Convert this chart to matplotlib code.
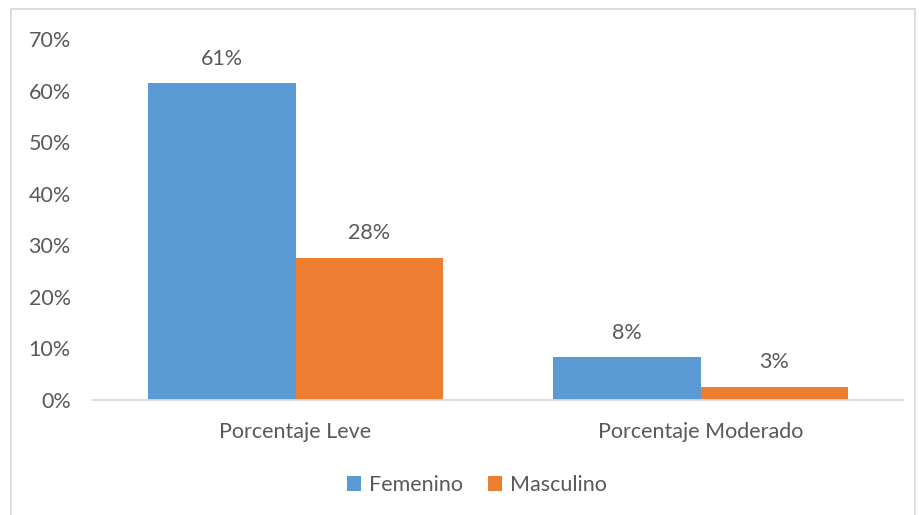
import matplotlib.pyplot as plt
import numpy as np
from matplotlib.patches import Rectangle

# data (fractions)
categorias = ['Porcentaje Leve', 'Porcentaje Moderado']
femenino = [0.614, 0.083]
masculino = [0.276, 0.026]
series = ['Femenino', 'Masculino']
colores = ['#5b9bd5', '#ed7d31']

plt.rcParams['font.family'] = ['Lato', 'DejaVu Sans']
gris = '#595959'
fs = 15.5

fig = plt.figure(figsize=(9.19, 5.15), dpi=100)
ax = fig.add_axes([93/919, 1-400/515, 810/919, 361/515])

x = np.arange(len(categorias))
w = 0.363
b1 = ax.bar(x - w/2, femenino, w, color=colores[0], label=series[0])
b2 = ax.bar(x + w/2, masculino, w, color=colores[1], label=series[1])

# data labels
for bars, vals in [(b1, femenino), (b2, masculino)]:
    for rect, v in zip(bars, vals):
        ax.annotate(f'{round(v*100):.0f}%', (rect.get_x() + rect.get_width()/2, v),
                    xytext=(0, 17.5), textcoords='offset points',
                    ha='center', va='center', fontsize=fs, color=gris)

ax.set_xlim(-0.5, 1.5)
ax.set_ylim(0, 0.7)
ax.set_yticks(np.arange(0, 0.71, 0.1))
ax.set_yticklabels([f'{t}%' for t in range(0, 71, 10)])
ax.set_xticks(x)
ax.set_xticklabels(categorias)
ax.tick_params(axis='y', length=0, pad=16, labelsize=fs, labelcolor=gris)
ax.tick_params(axis='x', length=0, pad=16, labelsize=fs, labelcolor=gris)

for s in ['top', 'right', 'left']:
    ax.spines[s].set_visible(False)
ax.spines['bottom'].set_color('#d9d9d9')
ax.spines['bottom'].set_linewidth(1.3)

fig.legend(loc='center', bbox_to_anchor=(477/919, 1-485/515), ncol=2, frameon=False,
           fontsize=fs, labelcolor=gris, handlelength=0.65, handleheight=0.65,
           handletextpad=0.35, columnspacing=1.2)

# outer chart border
fig.patches.append(Rectangle((11/919, -0.05), 904/919, 1.05 - 9/515,
                             transform=fig.transFigure, fill=False,
                             edgecolor='#d9d9d9', linewidth=1.3))

fig.savefig('out.png', dpi=100)
